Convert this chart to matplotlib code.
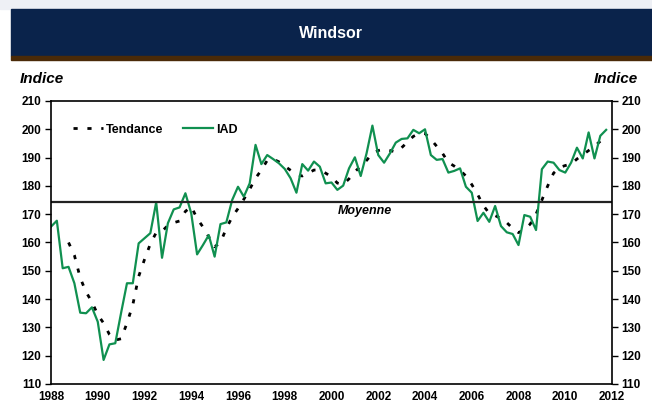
import numpy as np
import matplotlib.pyplot as plt
from matplotlib.patches import Rectangle

plt.rcParams['font.family'] = ['Liberation Sans', 'DejaVu Sans']

# quarterly data, 1988Q1 - 2011Q4
start_year = 1988
iad = [165.6, 167.7, 150.9, 151.4, 145.6, 135.2, 135.0, 137.1, 132.0, 118.5,
       124.0, 124.4, 135.2, 145.6, 145.6, 159.7, 161.5, 163.3, 174.2, 154.6,
       166.8, 171.7, 172.4, 177.4, 170.3, 155.8, 159.1, 162.6, 155.0, 166.5,
       167.1, 175.0, 179.7, 176.2, 180.9, 194.5, 187.7, 190.9, 189.5, 188.0,
       186.0, 182.7, 177.6, 187.7, 185.4, 188.6, 186.8, 180.9, 181.2, 178.6,
       180.1, 186.2, 190.1, 183.5, 191.5, 201.3, 190.9, 188.2, 191.5, 195.3,
       196.6, 196.8, 199.8, 198.6, 200.0, 190.9, 189.2, 189.5, 184.7, 185.3,
       186.2, 179.7, 177.6, 167.6, 170.5, 167.3, 172.9, 165.8, 163.6, 163.0,
       159.1, 169.7, 169.1, 164.4, 185.9, 188.6, 188.2, 185.6, 184.7, 188.2,
       193.5, 189.7, 198.9, 189.7, 197.7, 199.8]

# trend starts at quarter index 3
trend_start = 3
tendance = [160.0, 155.5, 147.5, 142.5, 139.0, 134.5, 131.5, 127.5, 125.5, 126.0,
            131.5, 138.0, 148.0, 154.0, 159.5, 163.5, 164.0, 166.0, 167.0, 167.6,
            171.0, 172.7, 168.5, 165.5, 162.0, 158.5, 160.0, 165.0, 169.0, 172.0,
            175.3, 178.8, 182.7, 185.6, 189.0, 189.5, 188.5, 187.0, 185.5, 184.0,
            183.5, 184.5, 185.6, 185.6, 184.5, 183.2, 181.0, 180.5, 182.5, 185.0,
            187.0, 189.0, 191.5, 192.5, 193.0, 192.5, 192.0, 193.5, 195.5, 197.5,
            198.5, 198.5, 196.5, 194.0, 191.5, 188.3, 187.0, 185.5, 183.5, 180.5,
            177.0, 173.0, 170.3, 169.5, 168.5, 167.0, 165.0, 163.5, 164.5, 166.5,
            170.0, 175.0, 180.0, 184.5, 186.5, 187.2, 187.7, 189.5, 191.0, 192.5,
            194.0, 195.8]

moyenne = 174.4
x_ticks = list(range(1988, 2013, 2))
y_ticks = list(range(110, 211, 10))

x_iad = start_year + np.arange(len(iad)) / 4.0
x_trend = start_year + (trend_start + np.arange(len(tendance))) / 4.0

fig = plt.figure(figsize=(6.52, 4.04), dpi=100)

# header banner
fig.patches.append(Rectangle((0, 1 - 9 / 404), 1, 9 / 404, transform=fig.transFigure,
                             color='#eef0f5', zorder=-1))
fig.patches.append(Rectangle((11 / 652, 1 - 56 / 404), 1, 47 / 404,
                             transform=fig.transFigure, color='#0a234b'))
fig.patches.append(Rectangle((11 / 652, 1 - 60 / 404), 1, 4 / 404,
                             transform=fig.transFigure, color='#4a2a08'))
fig.text(331 / 652, 1 - 33 / 404, 'Windsor', color='white', fontsize=11.5,
         fontweight='bold', ha='center', va='center')

ax = fig.add_axes([51 / 652, 1 - 384 / 404, 561 / 652, 283 / 404])

ax.plot(x_trend, tendance, color='black', lw=2, ls=(0, (1.5, 3.5)), label='Tendance')
ax.plot(x_iad, iad, color='#109050', lw=1.6, label='IAD')
ax.axhline(moyenne, color='#222222', lw=1.6)
ax.text(2001.45, moyenne - 1.3, 'Moyenne', fontsize=9, fontweight='bold',
        style='italic', ha='center', va='top')

ax.set_xlim(1988, 2012)
ax.set_ylim(110, 210)
ax.set_xticks(x_ticks)
ax.set_yticks(y_ticks)
ax.tick_params(axis='x', length=0, labelsize=8.5, pad=5)
ax.tick_params(axis='y', length=4, width=1, labelsize=8.5, direction='out',
               left=True, right=True, labelleft=True, labelright=True, pad=3)
for lbl in ax.get_xticklabels() + ax.get_yticklabels():
    lbl.set_fontweight('bold')
for s in ax.spines.values():
    s.set_linewidth(1.2)

leg = ax.legend(loc='upper left', ncol=2, frameon=False, fontsize=9,
                bbox_to_anchor=(0.02, 0.96), handlelength=2.4, handletextpad=0.2,
                columnspacing=1.6)
for t in leg.get_texts():
    t.set_fontweight('bold')

fig.text(20 / 652, 1 - 79 / 404, 'Indice', fontsize=11, fontweight='bold',
         style='italic', ha='left', va='center')
fig.text(638 / 652, 1 - 79 / 404, 'Indice', fontsize=11, fontweight='bold',
         style='italic', ha='right', va='center')

fig.savefig('out.png', dpi=100)
